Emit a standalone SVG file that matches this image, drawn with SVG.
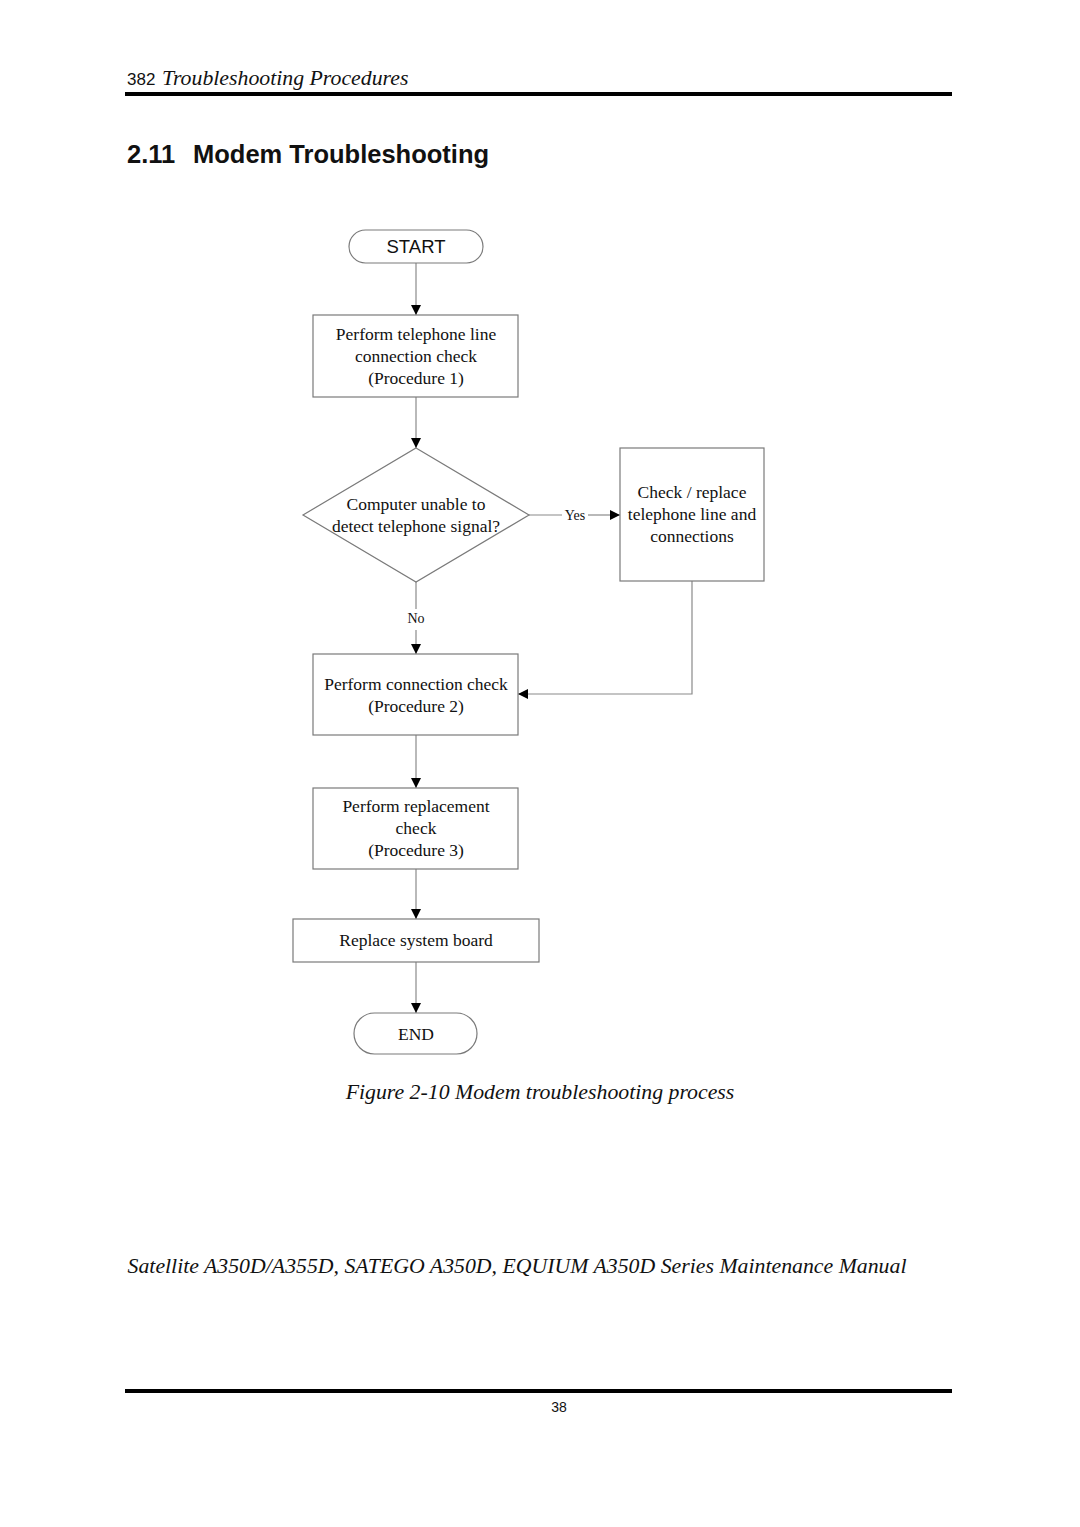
<svg xmlns="http://www.w3.org/2000/svg" width="1080" height="1527" viewBox="0 0 1080 1527">
<defs>
<marker id="arr" viewBox="0 0 10 10" refX="10" refY="5" markerWidth="10" markerHeight="10" markerUnits="userSpaceOnUse" orient="auto">
<path d="M0,0 L10,5 L0,10 z" fill="#000"/>
</marker>
<style>
.box{fill:#fff;stroke:#7a7a7a;stroke-width:1.2}
.con{fill:none;stroke:#8a8a8a;stroke-width:1.2}
.t{font-family:"Liberation Serif","Times New Roman",serif;font-size:17.5px;fill:#111;text-anchor:middle}
.s{font-family:"Liberation Sans",Arial,sans-serif;fill:#111}
.it{font-family:"Liberation Serif","Times New Roman",serif;font-style:italic;font-size:21.8px;fill:#111}
.lbl{font-family:"Liberation Serif","Times New Roman",serif;font-size:14px;fill:#111;text-anchor:middle}
</style>
</defs>
<rect width="1080" height="1527" fill="#fff"/>

<!-- header -->
<text x="127" y="85" class="s" font-size="17">382</text>
<text x="162" y="85" class="it">Troubleshooting Procedures</text>
<rect x="125" y="92" width="827" height="4" fill="#000"/>
<text x="127" y="163" class="s" font-size="25.5" font-weight="bold">2.11</text>
<text x="193" y="163" class="s" font-size="25.5" font-weight="bold">Modem Troubleshooting</text>

<!-- connectors -->
<g id="connectors">
<line class="con" x1="416" y1="263" x2="416" y2="315" marker-end="url(#arr)"/>
<line class="con" x1="416" y1="397" x2="416" y2="448" marker-end="url(#arr)"/>
<line class="con" x1="529" y1="515" x2="562" y2="515"/>
<line class="con" x1="588" y1="515" x2="620" y2="515" marker-end="url(#arr)"/>
<text x="575" y="520" class="lbl">Yes</text>
<line class="con" x1="416" y1="582" x2="416" y2="609"/>
<text x="416" y="623" class="lbl">No</text>
<line class="con" x1="416" y1="630" x2="416" y2="654" marker-end="url(#arr)"/>
<polyline class="con" points="692,581 692,694 518,694" marker-end="url(#arr)"/>
<line class="con" x1="416" y1="735" x2="416" y2="788" marker-end="url(#arr)"/>
<line class="con" x1="416" y1="869" x2="416" y2="919" marker-end="url(#arr)"/>
<line class="con" x1="416" y1="962" x2="416" y2="1013" marker-end="url(#arr)"/>
</g>

<g id="start">
<rect class="box" x="349" y="230" width="134" height="33" rx="16.5"/>
<text x="416" y="253" class="s" font-size="18.5" text-anchor="middle">START</text>
</g>

<g id="proc1">
<rect class="box" x="313" y="315" width="205" height="82"/>
<text class="t" x="416" y="340">Perform telephone line</text>
<text class="t" x="416" y="362">connection check</text>
<text class="t" x="416" y="384">(Procedure 1)</text>
</g>

<g id="decision">
<polygon class="box" points="416,448 529,515 416,582 303,515"/>
<text class="t" x="416" y="510">Computer unable to</text>
<text class="t" x="416" y="532">detect telephone signal?</text>
</g>

<g id="checkline">
<rect class="box" x="620" y="448" width="144" height="133"/>
<text class="t" x="692" y="498">Check / replace</text>
<text class="t" x="692" y="520">telephone line and</text>
<text class="t" x="692" y="542">connections</text>
</g>

<g id="proc2">
<rect class="box" x="313" y="654" width="205" height="81"/>
<text class="t" x="416" y="690">Perform connection check</text>
<text class="t" x="416" y="712">(Procedure 2)</text>
</g>

<g id="proc3">
<rect class="box" x="313" y="788" width="205" height="81"/>
<text class="t" x="416" y="812">Perform replacement</text>
<text class="t" x="416" y="834">check</text>
<text class="t" x="416" y="856">(Procedure 3)</text>
</g>

<g id="replace">
<rect class="box" x="293" y="919" width="246" height="43"/>
<text class="t" x="416" y="946">Replace system board</text>
</g>

<g id="end">
<rect class="box" x="354" y="1013" width="123" height="41" rx="20.5"/>
<text class="t" x="416" y="1040">END</text>
</g>

<!-- caption and footer -->
<text x="540" y="1099" class="it" text-anchor="middle">Figure 2-10 Modem troubleshooting process</text>
<text x="517" y="1273" class="it" text-anchor="middle">Satellite A350D/A355D, SATEGO A350D, EQUIUM A350D Series Maintenance Manual</text>
<rect x="125" y="1389" width="827" height="4" fill="#000"/>
<text x="559" y="1412" class="s" font-size="14" text-anchor="middle">38</text>
</svg>
